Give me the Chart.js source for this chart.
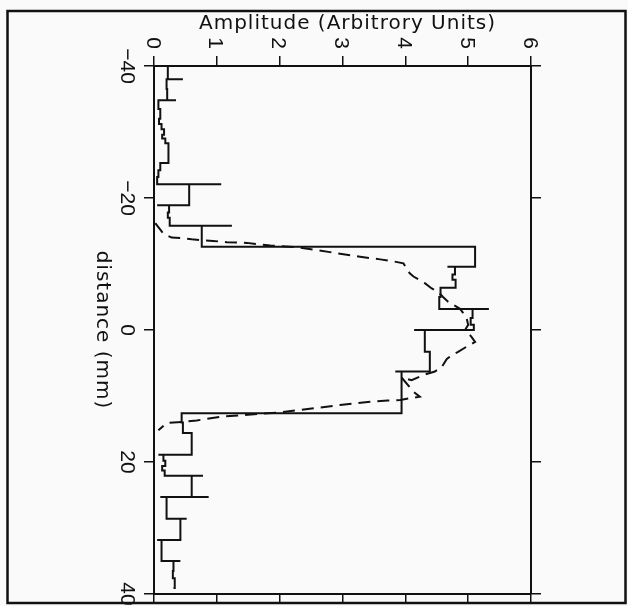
<!DOCTYPE html>
<html>
<head>
<meta charset="utf-8">
<script src="https://cdn.jsdelivr.net/npm/chart.js@4.4.1/dist/chart.umd.min.js"></script>
<style>
    body { margin: 0; background: #fafafa; }
    canvas { display: block; }
</style>
</head>
<body>
<canvas id="profileChart" width="628" height="606"></canvas>
<script>
// Measured profile: each entry starts a step at this distance (mm) with this amplitude.
// Two entries at the same distance = the short overshoot lines at a step.
const stepDistance = [
    -40, -38.0, -38.0, -36.5, -34.8, -34.8, -33.5, -32.0, -31.2, -30.4,
    -29.6, -29.0, -28.3, -25.3, -24.2, -23.2, -22.1, -22.1, -18.9, -18.9,
    -17.8, -17.0, -15.8, -15.8, -12.6, -9.6, -9.6, -8.4, -7.6, -6.4,
    -5.0, -3.2, -3.2, -1.8, -0.8, 0.0, 0.0, 3.3, 6.3, 6.3,
    12.6, 14.0, 15.6, 18.9, 18.9, 19.8, 20.6, 21.3, 22.1, 22.1,
    25.3, 25.3, 25.3, 28.6, 28.6, 31.8, 31.8, 35.0, 35.0, 36.5,
    37.6, 39.1
];
const stepAmplitude = [
    0.22, 0.46, 0.20, 0.21, 0.35, 0.07, 0.10, 0.08, 0.12, 0.16,
    0.13, 0.18, 0.23, 0.10, 0.07, 0.05, 1.07, 0.56, 0.05, 0.24,
    0.22, 0.25, 1.24, 0.76, 5.11, 4.67, 4.79, 4.75, 4.80, 4.56,
    4.54, 5.33, 5.07, 5.04, 5.09, 4.14, 4.31, 4.39, 3.84, 3.94,
    0.44, 0.46, 0.60, 0.07, 0.15, 0.18, 0.13, 0.17, 0.78, 0.60,
    0.87, 0.10, 0.20, 0.52, 0.42, 0.05, 0.12, 0.42, 0.31, 0.30,
    0.33, 0.31
];

// Dashed curve
const fitDistance = [
    -16.2, -14.6, -14.0, -13.9, -13.75, -13.6, -13.5, -13.3, -13.2, -12.8,
    -12.5, -11.8, -11.1, -10.7, -10.4, -10.1, -8.6, -8.1, -7.1, -6.3,
    -5.8, -5.0, -4.3, -3.2, -2.0, -0.8, 0.0, 1.0, 1.8, 2.5,
    3.3, 3.8, 4.4, 5.6, 6.3, 6.8, 7.6, 7.2, 9.35, 10.1,
    10.35, 10.6, 10.7, 10.86, 11.36, 12.5, 13.1, 13.7, 13.9, 14.1,
    15.2
];
const fitAmplitude = [
    0.02, 0.15, 0.28, 0.47, 0.60, 0.78, 0.94, 1.16, 1.48, 1.85,
    2.32, 2.80, 3.28, 3.60, 3.81, 3.97, 4.07, 4.13, 4.31, 4.42,
    4.52, 4.60, 4.68, 4.87, 4.97, 5.00, 4.95, 5.05, 5.11, 4.98,
    4.84, 4.74, 4.66, 4.58, 4.47, 4.29, 4.10, 3.94, 4.13, 4.23,
    4.07, 3.92, 3.72, 3.44, 2.96, 2.00, 1.10, 0.68, 0.47, 0.20,
    0.07
];

const amplitudeTicks = [0, 1, 2, 3, 4, 5, 6];
const distanceTicks = [-40, -20, 0, 20, 40];
const amplitudeTitle = 'Amplitude (Arbitrory Units)';
const distanceTitle = 'distance (mm)';

const ink = '#111';

function toPoints(dist, amp) {
    return dist.map((d, i) => ({ x: amp[i], y: d }));
}

function drawTurned(ctx, text, x, y) {
    // text turned a quarter turn clockwise, reads top to bottom
    ctx.save();
    ctx.translate(x, y);
    ctx.rotate(Math.PI / 2);
    ctx.fillText(text, 0, 0);
    ctx.restore();
}

const pagePlugin = {
    id: 'page',
    beforeDraw(chart) {
        const ctx = chart.ctx;
        ctx.save();
        ctx.fillStyle = '#fafafa';
        ctx.fillRect(0, 0, chart.width, chart.height);
        ctx.restore();
    },
    afterDraw(chart) {
        const ctx = chart.ctx;
        const area = chart.chartArea;
        const xs = chart.scales.x;
        const ys = chart.scales.y;
        ctx.save();
        ctx.fillStyle = ink;

        // outer frame
        ctx.strokeStyle = ink;
        ctx.lineWidth = 2.5;
        ctx.strokeRect(7.5, 11, 618, 592);

        // tick labels
        ctx.font = '21px "Liberation Sans"';
        ctx.textAlign = 'center';
        ctx.textBaseline = 'alphabetic';
        amplitudeTicks.forEach(v => {
            drawTurned(ctx, String(v), xs.getPixelForValue(v) - 7.5, area.top - 23);
        });
        distanceTicks.forEach(v => {
            const label = v < 0 ? '\u2212' + Math.abs(v) : String(v);
            drawTurned(ctx, label, area.left - 33, ys.getPixelForValue(v));
        });

        // axis titles
        ctx.font = '20px "DejaVu Sans"';
        ctx.letterSpacing = '1px';
        ctx.fillText(amplitudeTitle, (area.left + area.right) / 2 + 5, area.top - 37);
        drawTurned(ctx, distanceTitle, area.left - 57, (area.top + area.bottom) / 2);
        ctx.restore();
    }
};

function edgeAxis(position, min, max, step, reverse) {
    return {
        type: 'linear',
        position: position,
        min: min,
        max: max,
        reverse: reverse,
        ticks: { display: false, stepSize: step },
        grid: {
            display: true,
            drawOnChartArea: false,
            drawTicks: true,
            tickLength: 10,
            color: ink,
            lineWidth: 1.5
        },
        border: { display: true, color: ink, width: 2 }
    };
}

const ctx = document.getElementById('profileChart').getContext('2d');
new Chart(ctx, {
    type: 'scatter',
    data: {
        datasets: [
            {
                label: 'measured',
                data: toPoints(stepDistance, stepAmplitude),
                showLine: true,
                stepped: 'after',
                borderColor: ink,
                borderWidth: 2,
                pointRadius: 0
            },
            {
                label: 'fit',
                data: toPoints(fitDistance, fitAmplitude),
                showLine: true,
                borderColor: ink,
                borderWidth: 2,
                borderDash: [12, 7],
                tension: 0,
                pointRadius: 0
            }
        ]
    },
    options: {
        responsive: false,
        animation: false,
        layout: { padding: { left: 144, top: 56, right: 87, bottom: 2 } },
        plugins: {
            legend: { display: false },
            tooltip: { enabled: false }
        },
        scales: {
            x: edgeAxis('top', 0, 6, 1, false),
            x2: edgeAxis('bottom', 0, 6, 1, false),
            y: edgeAxis('left', -40, 40, 20, true),
            y2: edgeAxis('right', -40, 40, 20, true)
        }
    },
    plugins: [pagePlugin]
});
</script>
</body>
</html>
